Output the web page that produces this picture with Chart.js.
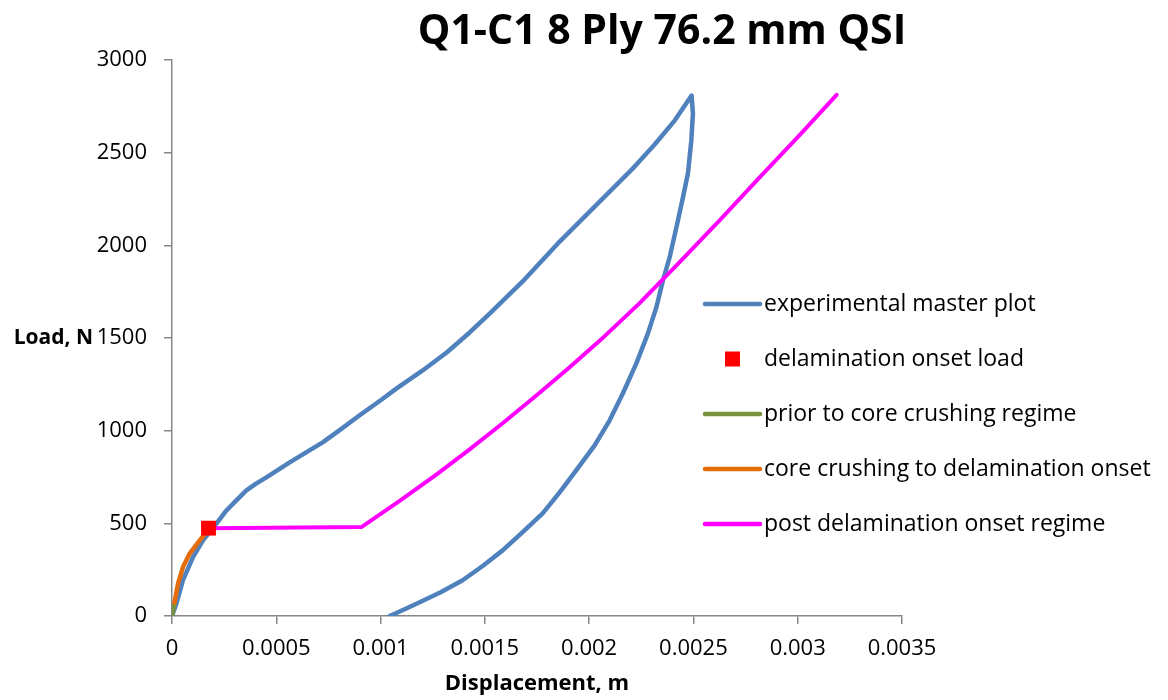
<!DOCTYPE html>
<html>
<head>
<meta charset="utf-8">
<title>Q1-C1 8 Ply 76.2 mm QSI</title>
<script src="https://cdn.jsdelivr.net/npm/chart.js@4.4.1/dist/chart.umd.min.js"></script>
<style>
    html, body { margin: 0; padding: 0; background: #fff; }
    #wrap { width: 1168px; height: 700px; }
</style>
</head>
<body>
<div id="wrap"><canvas id="loadChart" width="1168" height="700"></canvas></div>
<script>
// experimental master plot: loading branch then unloading branch
const expDisp = [0, 0.0000211, 0.0000527, 0.0001007, 0.0001486, 0.0002128, 0.0002574, 0.0003087,
    0.0003567, 0.0004012, 0.0004526, 0.0005642, 0.0007224, 0.0008039, 0.0008998, 0.0009957,
    0.0010772, 0.0012018, 0.0013169, 0.0014271, 0.001523, 0.0016812, 0.001849, 0.0020168,
    0.0021223, 0.0022181, 0.002314, 0.0024099, 0.0024914,
    0.0024976, 0.0024899, 0.0024736, 0.0024496, 0.0024257, 0.0023859, 0.0023538, 0.0023221,
    0.0022819, 0.0022263, 0.002162, 0.0020983, 0.0020264, 0.0019449, 0.0018586, 0.0017771,
    0.0016812, 0.0015853, 0.0014895, 0.0013936, 0.0012881, 0.0011874, 0.0011155, 0.0010436];
const expLoad = [0, 67, 193, 318, 408, 498, 565, 624,
    678, 713, 748, 829, 937, 1003, 1083, 1160,
    1228, 1325, 1422, 1530, 1632, 1805, 2009, 2198,
    2317, 2425, 2544, 2673, 2808,
    2711, 2566, 2388, 2258, 2134, 1935, 1811, 1665,
    1525, 1363, 1202, 1056, 921, 797, 667, 554,
    453, 354, 270, 193, 128, 74, 36, 0];

const onsetDisp = [0.000175];
const onsetLoad = [474];

const priorDisp = [0, 0.000012];
const priorLoad = [0, 72];

const crushDisp = [0.000012, 0.0000288, 0.0000527, 0.0000849, 0.0001328, 0.0001649, 0.000175];
const crushLoad = [72, 175, 264, 337, 408, 453, 474];

const postDisp = [0.000175, 0.000908, 0.0010916, 0.0012689, 0.0014271, 0.0015853, 0.0017483, 0.0019065,
    0.0020743, 0.0022421, 0.0024339, 0.0026256, 0.0028174, 0.0030091, 0.0031865];
const postLoad = [474, 480, 621, 764, 899, 1040, 1191, 1342,
    1510, 1688, 1909, 2135, 2367, 2594, 2812];

const xTickLabels = ['0', '0.0005', '0.001', '0.0015', '0.002', '0.0025', '0.003', '0.0035'];
const yTickLabels = ['0', '500', '1000', '1500', '2000', '2500', '3000'];

const seriesNames = ['experimental master plot', 'delamination onset load', 'prior to core crushing regime',
    'core crushing to delamination onset', 'post delamination onset regime'];

const colors = {
    blue: '#4F81BD',
    red: '#FF0000',
    green: '#77933C',
    orange: '#E46C0A',
    magenta: '#FF00FF',
    axis: '#868686'
};

const FONT = '"Open Sans", "DejaVu Sans", sans-serif';

function pairs(xs, ys) {
    return xs.map((x, i) => ({ x: x, y: ys[i] }));
}

function lineSet(label, xs, ys, color, width, order) {
    return {
        label: label,
        data: pairs(xs, ys),
        showLine: true,
        borderColor: color,
        backgroundColor: color,
        borderWidth: width,
        borderCapStyle: 'round',
        borderJoinStyle: 'round',
        pointRadius: 0,
        tension: 0,
        order: order
    };
}

// titles and the legend are drawn by hand so they sit where the original has them
const decorations = {
    id: 'decorations',
    afterDraw(chart) {
        const ctx = chart.ctx;
        ctx.save();
        ctx.fillStyle = '#000';
        ctx.textBaseline = 'middle';

        ctx.font = 'bold 41px ' + FONT;
        ctx.textAlign = 'center';
        ctx.fillText('Q1-C1 8 Ply 76.2 mm QSI', 662, 32);

        ctx.font = 'bold 21px ' + FONT;
        ctx.textAlign = 'right';
        ctx.fillText('Load, N', 93, 338);

        ctx.font = 'bold 22px ' + FONT;
        ctx.textAlign = 'center';
        ctx.fillText('Displacement, m', 537, 684);

        ctx.font = '23px ' + FONT;
        ctx.textAlign = 'left';
        chart.data.datasets.forEach((ds, i) => {
            const y = 304 + i * 55;
            if (ds.showLine) {
                ctx.strokeStyle = ds.borderColor;
                ctx.lineWidth = 4.5;
                ctx.lineCap = 'round';
                ctx.beginPath();
                ctx.moveTo(705, y);
                ctx.lineTo(760, y);
                ctx.stroke();
            } else {
                ctx.fillStyle = ds.backgroundColor;
                ctx.fillRect(725, y - 7.5, 15, 15);
            }
            ctx.fillStyle = '#000';
            ctx.fillText(ds.label, 764, y);
        });
        ctx.restore();
    }
};

const ctx = document.getElementById('loadChart');
new Chart(ctx, {
    type: 'scatter',
    data: {
        datasets: [
            lineSet(seriesNames[0], expDisp, expLoad, colors.blue, 4.5, 5),
            {
                label: seriesNames[1],
                data: pairs(onsetDisp, onsetLoad),
                showLine: false,
                pointStyle: 'rect',
                pointRadius: 10.5,
                pointBackgroundColor: colors.red,
                pointBorderColor: colors.red,
                backgroundColor: colors.red,
                borderColor: colors.red,
                pointBorderWidth: 0,
                order: 0
            },
            lineSet(seriesNames[2], priorDisp, priorLoad, colors.green, 4.5, 3),
            lineSet(seriesNames[3], crushDisp, crushLoad, colors.orange, 4.5, 2),
            lineSet(seriesNames[4], postDisp, postLoad, colors.magenta, 4, 1)
        ]
    },
    options: {
        responsive: false,
        animation: false,
        devicePixelRatio: 1,
        layout: {
            padding: { top: 60, right: 266, bottom: 0, left: 0 }
        },
        plugins: {
            legend: { display: false },
            title: { display: false },
            tooltip: { enabled: false }
        },
        scales: {
            x: {
                type: 'linear',
                min: 0,
                max: 0.0035,
                afterFit(scale) { scale.height = 84; },
                afterBuildTicks(scale) {
                    scale.ticks = xTickLabels.map(t => ({ value: parseFloat(t) }));
                },
                ticks: {
                    autoSkip: false,
                    maxRotation: 0,
                    padding: 12,
                    color: '#000',
                    font: { family: FONT, size: 22 },
                    callback: (value, index) => xTickLabels[index]
                },
                grid: {
                    drawOnChartArea: false,
                    drawTicks: true,
                    tickLength: 8,
                    color: colors.axis,
                    lineWidth: 1.5
                },
                border: { display: true, color: colors.axis, width: 1.5 }
            },
            y: {
                type: 'linear',
                min: 0,
                max: 3000,
                afterFit(scale) { scale.width = 172; },
                afterBuildTicks(scale) {
                    scale.ticks = yTickLabels.map(t => ({ value: Number(t) }));
                },
                ticks: {
                    autoSkip: false,
                    padding: 17,
                    color: '#000',
                    font: { family: FONT, size: 22 },
                    callback: (value, index) => yTickLabels[index]
                },
                grid: {
                    drawOnChartArea: false,
                    drawTicks: true,
                    tickLength: 8,
                    color: colors.axis,
                    lineWidth: 1.5
                },
                border: { display: true, color: colors.axis, width: 1.5 }
            }
        }
    },
    plugins: [decorations]
});
</script>
</body>
</html>
